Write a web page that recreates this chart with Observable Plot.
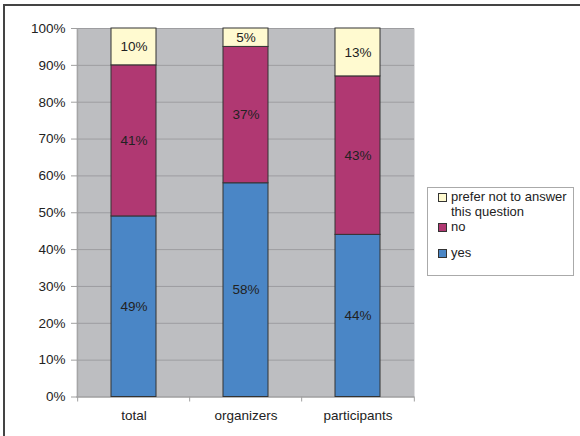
<!DOCTYPE html>
<html>
<head>
<meta charset="utf-8">
<script src="https://cdn.jsdelivr.net/npm/d3@7"></script>
<script src="https://cdn.jsdelivr.net/npm/@observablehq/plot@0.6"></script>
<style>
  body { margin: 0; background: #fff; font-family: "Liberation Sans", Arial, sans-serif; }
  #wrap { position: relative; width: 580px; height: 436px; overflow: hidden; }
  #frame { position: absolute; left: 3px; top: 4px; width: 600px; height: 500px; border-left: 2px solid #444; border-top: 2px solid #444; pointer-events: none; }
  #legend { position: absolute; left: 427px; top: 187px; width: 145px; height: 87px; border: 1px solid #aaa; background: #fff; font-size: 13px; color: #222; }
  .item { position: absolute; left: 10px; display: flex; align-items: flex-start; line-height: 15px; }
  .sw { width: 7px; height: 7px; border: 1px solid #333; margin-top: 4px; margin-right: 4px; flex: none; }
</style>
</head>
<body>
<div id="wrap">
  <div id="chart"></div>
  <div id="legend"></div>
  <div id="frame"></div>
</div>
<script>
const categories = ["total", "organizers", "participants"];
const seriesKeys = ["yes", "no", "prefer"];
const seriesLabels = ["yes", "no", "prefer not to answer\nthis question"];
const seriesColors = ["#4a86c6", "#b03872", "#fffad0"];
const yesValues = [49, 58, 44];
const noValues = [41, 37, 43];
const preferValues = [10, 5, 13];
const yTicks = [0, 10, 20, 30, 40, 50, 60, 70, 80, 90, 100];

const valuesBySeries = {yes: yesValues, no: noValues, prefer: preferValues};
const data = [];
for (const s of seriesKeys) {
  categories.forEach((c, i) => data.push({cat: c, series: s, value: valuesBySeries[s][i]}));
}

const W = 580, H = 436, mL = 76, mR = 166, mT = 28, mB = 39.5;
const step = (W - mL - mR) / categories.length;

const stackOpts = {order: seriesKeys};

const chart = Plot.plot({
  width: W,
  height: H,
  marginLeft: mL,
  marginRight: mR,
  marginTop: mT,
  marginBottom: mB,
  style: {fontFamily: "'Liberation Sans', Arial, sans-serif", fontSize: "13.5px", color: "#222", background: "transparent", overflow: "visible"},
  x: {domain: categories, paddingInner: 0.6, paddingOuter: 0.3, label: null},
  y: {domain: [0, 100], label: null},
  color: {domain: seriesKeys, range: seriesColors},
  marks: [
    Plot.frame({fill: "#bdbec1", stroke: null}),
    Plot.ruleY(yTicks, {stroke: "#9d9da0", strokeWidth: 1}),
    Plot.ruleX([categories[0]], {dx: -step / 2, stroke: "#a0a0a0", strokeWidth: 1}),
    Plot.ruleY([0], {stroke: "#a0a0a0", strokeWidth: 1}),
    Plot.ruleX(categories, {x: d => d, dx: -step / 2, y1: 0, y2: 0, insetBottom: -5, stroke: "#a0a0a0"}),
    Plot.ruleX([categories[categories.length - 1]], {dx: step / 2, y1: 0, y2: 0, insetBottom: -5, stroke: "#a0a0a0"}),
    Plot.barY(data, Plot.stackY(stackOpts, {x: "cat", y: "value", z: "series", fill: "series", stroke: "#333", strokeWidth: 1})),
    Plot.text(data, Plot.stackY(stackOpts, {x: "cat", y: "value", z: "series", text: d => d.value + "%", fill: "#222", fontSize: 13.5})),
    Plot.axisY(yTicks, {tickSize: 5, tickPadding: 6, stroke: "#a0a0a0", tickFormat: d => d + "%", fill: "#222"}),
    Plot.axisX(categories, {tickSize: 0, tickPadding: 13, fill: "#222"})
  ]
});
document.getElementById("chart").appendChild(chart);

const legend = document.getElementById("legend");
const order = [2, 1, 0];
const tops = [1, 31, 57];
order.forEach((si, k) => {
  const it = document.createElement("div");
  it.className = "item";
  it.style.top = tops[k] + "px";
  const sw = document.createElement("span");
  sw.className = "sw";
  sw.style.background = seriesColors[si];
  const tx = document.createElement("span");
  tx.style.whiteSpace = "pre";
  tx.textContent = seriesLabels[si];
  it.appendChild(sw);
  it.appendChild(tx);
  legend.appendChild(it);
});
</script>
</body>
</html>
